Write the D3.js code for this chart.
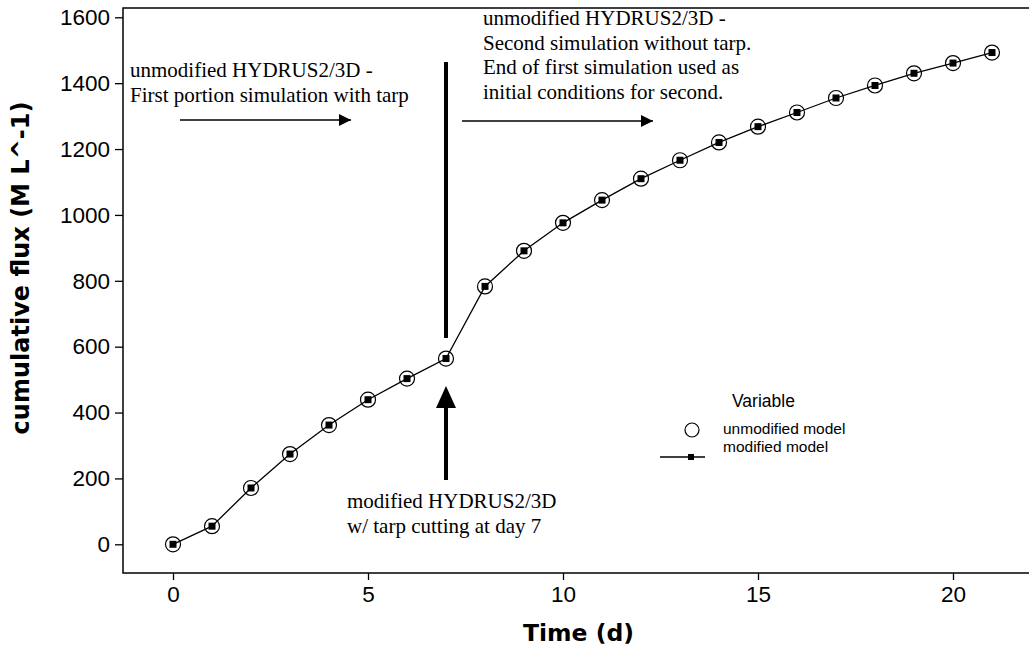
<!DOCTYPE html>
<html>
<head>
<meta charset="utf-8">
<script src="https://cdn.jsdelivr.net/npm/d3@7"></script>
<style>
  body { margin: 0; background: #fff; }
  svg { display: block; }
</style>
</head>
<body>
<div id="chart"></div>
<script>
const WIDTH = 1029;
const HEIGHT = 647;

// data
const days = [0, 1, 2, 3, 4, 5, 6, 7, 8, 9, 10, 11, 12, 13, 14, 15, 16, 17, 18, 19, 20, 21];
const unmodified = [0, 55, 171, 274, 362, 439, 503, 564, 783, 891, 976, 1045, 1110, 1166, 1220, 1268, 1311, 1355, 1393, 1430, 1461, 1493];
const modified = [0, 55, 171, 274, 362, 439, 503, 564, 783, 891, 976, 1045, 1110, 1166, 1220, 1268, 1311, 1355, 1393, 1430, 1461, 1493];
const xTicks = [0, 5, 10, 15, 20];
const yTicks = [0, 200, 400, 600, 800, 1000, 1200, 1400, 1600];
const cutDay = 7;

const leftNotes = ['unmodified HYDRUS2/3D -', 'First portion simulation with tarp'];
const rightNotes = ['unmodified HYDRUS2/3D -', 'Second simulation without tarp.',
    'End of first simulation used as', 'initial conditions for second.'];
const bottomNotes = ['modified HYDRUS2/3D', 'w/ tarp cutting at day 7'];

const frameL = 123, frameR = 1032, frameT = 8, frameB = 573;

const x = d3.scaleLinear().domain([0, 21]).range([173, 992]);
const y = d3.scaleLinear().domain([0, 1600]).range([544.3, 17.3]);

const svg = d3.select('#chart')
    .append('svg')
    .attr('width', WIDTH)
    .attr('height', HEIGHT);

const defs = svg.append('defs');
defs.append('marker')
    .attr('id', 'head')
    .attr('viewBox', '0 0 10 10')
    .attr('refX', 10).attr('refY', 5)
    .attr('markerWidth', 14).attr('markerHeight', 12)
    .attr('markerUnits', 'userSpaceOnUse')
    .attr('orient', 'auto')
    .append('path')
    .attr('d', 'M0,0 L10,5 L0,10 Z')
    .attr('fill', '#000');

// frame
svg.append('rect')
    .attr('x', frameL).attr('y', frameT)
    .attr('width', frameR - frameL).attr('height', frameB - frameT)
    .attr('fill', 'none')
    .attr('stroke', '#000')
    .attr('stroke-width', 1.5);

// axes
const yAxis = svg.append('g')
    .attr('transform', `translate(${frameL},0)`)
    .call(d3.axisLeft(y).tickValues(yTicks).tickFormat(d3.format('d')).tickSize(8).tickPadding(5));
const xAxis = svg.append('g')
    .attr('transform', `translate(0,${frameB})`)
    .call(d3.axisBottom(x).tickValues(xTicks).tickFormat(d3.format('d')).tickSize(7).tickPadding(6));

[yAxis, xAxis].forEach(g => {
    g.select('.domain').remove();
    g.selectAll('line').attr('stroke', '#000').attr('stroke-width', 1.3);
    g.selectAll('text')
        .attr('font-family', '"Liberation Sans", Arial, sans-serif')
        .attr('font-size', 22.5)
        .attr('fill', '#000');
});

svg.append('text')
    .text('Time (d)')
    .attr('x', (frameL + frameR) / 2 + 1)
    .attr('y', 641)
    .attr('text-anchor', 'middle')
    .attr('font-family', '"DejaVu Sans", Verdana, sans-serif')
    .attr('font-weight', 'bold')
    .attr('font-size', 23.5);

svg.append('text')
    .text('cumulative flux (M L^-1)')
    .attr('transform', 'translate(29,268) rotate(-90)')
    .attr('text-anchor', 'middle')
    .attr('font-family', '"DejaVu Sans", Verdana, sans-serif')
    .attr('font-weight', 'bold')
    .attr('font-size', 24);

// series
const line = d3.line()
    .x((d, i) => x(days[i]))
    .y(d => y(d));

svg.append('path')
    .datum(modified)
    .attr('d', line)
    .attr('fill', 'none')
    .attr('stroke', '#000')
    .attr('stroke-width', 1.3);

svg.selectAll('circle.unmod')
    .data(unmodified)
    .enter()
    .append('circle')
    .attr('class', 'unmod')
    .attr('cx', (d, i) => x(days[i]))
    .attr('cy', d => y(d))
    .attr('r', 7.5)
    .attr('fill', 'none')
    .attr('stroke', '#000')
    .attr('stroke-width', 1.2);

svg.selectAll('rect.mod')
    .data(modified)
    .enter()
    .append('rect')
    .attr('class', 'mod')
    .attr('x', (d, i) => x(days[i]) - 3.5)
    .attr('y', d => y(d) - 3.5)
    .attr('width', 7)
    .attr('height', 7)
    .attr('fill', '#000');

// annotations
const serif = '"Liberation Serif", "Times New Roman", serif';

function note(lines, x0, y0) {
    const t = svg.append('text')
        .attr('font-family', serif)
        .attr('font-size', 21)
        .attr('fill', '#000');
    lines.forEach((s, i) => {
        t.append('tspan').attr('x', x0).attr('y', y0 + i * 24.5).text(s);
    });
}

note(leftNotes, 130, 77);
note(rightNotes, 483, 25);
note(bottomNotes, 347, 508);

svg.append('line')
    .attr('x1', 180).attr('x2', 351)
    .attr('y1', 120).attr('y2', 120)
    .attr('stroke', '#000').attr('stroke-width', 1.3)
    .attr('marker-end', 'url(#head)');

svg.append('line')
    .attr('x1', 462).attr('x2', 653)
    .attr('y1', 121).attr('y2', 121)
    .attr('stroke', '#000').attr('stroke-width', 1.3)
    .attr('marker-end', 'url(#head)');

// thick vertical divider at the cut day
svg.append('line')
    .attr('x1', x(cutDay)).attr('x2', x(cutDay))
    .attr('y1', 62).attr('y2', 338)
    .attr('stroke', '#000').attr('stroke-width', 4);

// up arrow pointing to the cut day
svg.append('line')
    .attr('x1', x(cutDay)).attr('x2', x(cutDay))
    .attr('y1', 480).attr('y2', 405)
    .attr('stroke', '#000').attr('stroke-width', 4);
svg.append('path')
    .attr('d', `M${x(cutDay)},386 L${x(cutDay) + 10},408 L${x(cutDay) - 10},408 Z`)
    .attr('fill', '#000');

// legend
const sans = '"Liberation Sans", Arial, sans-serif';
svg.append('text')
    .text('Variable')
    .attr('x', 732).attr('y', 407)
    .attr('font-family', sans).attr('font-size', 17.5);

svg.append('circle')
    .attr('cx', 692).attr('cy', 430).attr('r', 7)
    .attr('fill', 'none').attr('stroke', '#000').attr('stroke-width', 1.2);
svg.append('text')
    .text('unmodified model')
    .attr('x', 723).attr('y', 434)
    .attr('font-family', sans).attr('font-size', 15.5);

svg.append('line')
    .attr('x1', 660).attr('x2', 705)
    .attr('y1', 457).attr('y2', 457)
    .attr('stroke', '#000').attr('stroke-width', 1.3);
svg.append('rect')
    .attr('x', 688).attr('y', 454).attr('width', 6).attr('height', 6)
    .attr('fill', '#000');
svg.append('text')
    .text('modified model')
    .attr('x', 723).attr('y', 452)
    .attr('font-family', sans).attr('font-size', 15.5);
</script>
</body>
</html>
